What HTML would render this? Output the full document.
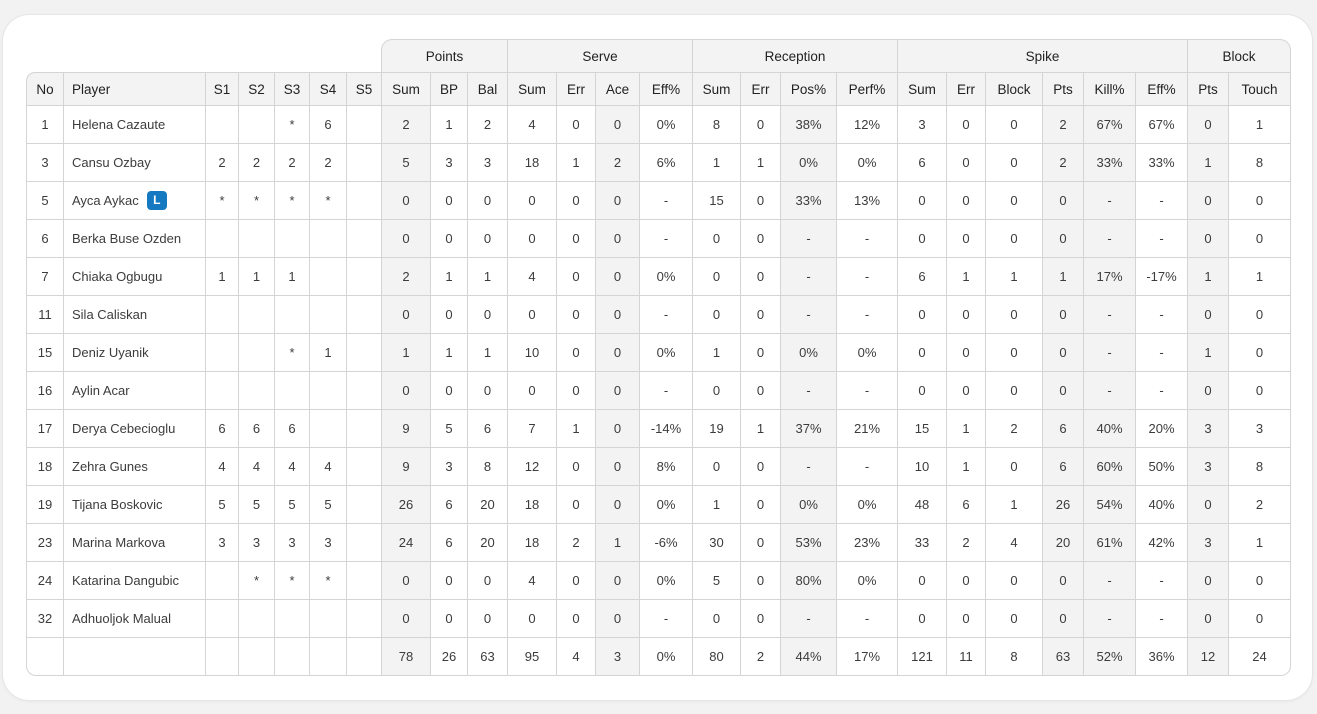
<!DOCTYPE html>
<html><head><meta charset="utf-8"><style>
html,body{margin:0;padding:0;background:#f2f2f2;width:1317px;height:714px;overflow:hidden;font-family:"Liberation Sans",sans-serif;}
.card{position:absolute;left:3px;top:15px;width:1309px;height:685px;background:#fff;border-radius:26px;box-shadow:0 0 0 1px #e6e6e6,0 1px 4px rgba(0,0,0,0.06);}
.g{position:absolute;left:26px;top:39px;display:grid;grid-template-columns:38px 142px 33px 36px 35px 37px 35px 49px 37px 40px 49px 39px 44px 53px 48px 40px 56px 61px 49px 39px 57px 41px 52px 52px 41px 62px;grid-template-rows:33px 34px repeat(15,38px);font-size:13px;color:#3c3c3c;}
.g div div{box-sizing:border-box;border-right:1px solid #d4d4d4;border-bottom:1px solid #d4d4d4;display:flex;align-items:center;justify-content:center;white-space:nowrap;}
.r,.h,.gh{display:contents;}
.r>div:first-child{border-left:1px solid #d4d4d4;}
.r>div:nth-child(2){justify-content:flex-start;padding-left:8px;}
.r>div:nth-child(8),.r>div:nth-child(13),.r>div:nth-child(17),.r>div:nth-child(22),.r>div:nth-child(23),.r>div:nth-child(25){background:#f3f3f3;}
.h>div{background:#f3f3f3;border-top:1px solid #d4d4d4;color:#222;font-size:13.5px;}
.h>div:first-child{border-left:1px solid #d4d4d4;border-top-left-radius:9px;}
.h>div:nth-child(2){justify-content:flex-start;padding-left:8px;}
.gh>div{background:#f3f3f3;border-top:1px solid #d4d4d4;border-bottom:none !important;color:#222;font-size:13.5px;}
.gh>div.b{grid-column:span 7;background:transparent;border:none !important;}
.gh>div.p{border-left:1px solid #d4d4d4;border-top-left-radius:11px;margin-left:-1px;}
.gh>div.k{border-top-right-radius:11px;}
.last>div:first-child{border-bottom-left-radius:10px;}
.last>div:last-child{border-bottom-right-radius:10px;}
.L{display:inline-block;width:20px;height:19px;line-height:19px;background:#1479c0;color:#fff;border-radius:4px;font-weight:bold;font-size:12px;text-align:center;margin-left:8px;}
</style></head><body>
<div class="card"></div>
<div class="g">
<div class="gh"><div class="b"></div><div class="p" style="grid-column:span 3">Points</div><div style="grid-column:span 4">Serve</div><div style="grid-column:span 4">Reception</div><div style="grid-column:span 6">Spike</div><div class="k" style="grid-column:span 2">Block</div></div>
<div class="h"><div>No</div><div>Player</div><div>S1</div><div>S2</div><div>S3</div><div>S4</div><div>S5</div><div>Sum</div><div>BP</div><div>Bal</div><div>Sum</div><div>Err</div><div>Ace</div><div>Eff%</div><div>Sum</div><div>Err</div><div>Pos%</div><div>Perf%</div><div>Sum</div><div>Err</div><div>Block</div><div>Pts</div><div>Kill%</div><div>Eff%</div><div>Pts</div><div>Touch</div></div>
<div class="r"><div>1</div><div>Helena Cazaute</div><div></div><div></div><div>*</div><div>6</div><div></div><div>2</div><div>1</div><div>2</div><div>4</div><div>0</div><div>0</div><div>0%</div><div>8</div><div>0</div><div>38%</div><div>12%</div><div>3</div><div>0</div><div>0</div><div>2</div><div>67%</div><div>67%</div><div>0</div><div>1</div></div>
<div class="r"><div>3</div><div>Cansu Ozbay</div><div>2</div><div>2</div><div>2</div><div>2</div><div></div><div>5</div><div>3</div><div>3</div><div>18</div><div>1</div><div>2</div><div>6%</div><div>1</div><div>1</div><div>0%</div><div>0%</div><div>6</div><div>0</div><div>0</div><div>2</div><div>33%</div><div>33%</div><div>1</div><div>8</div></div>
<div class="r"><div>5</div><div>Ayca Aykac<span class="L">L</span></div><div>*</div><div>*</div><div>*</div><div>*</div><div></div><div>0</div><div>0</div><div>0</div><div>0</div><div>0</div><div>0</div><div>-</div><div>15</div><div>0</div><div>33%</div><div>13%</div><div>0</div><div>0</div><div>0</div><div>0</div><div>-</div><div>-</div><div>0</div><div>0</div></div>
<div class="r"><div>6</div><div>Berka Buse Ozden</div><div></div><div></div><div></div><div></div><div></div><div>0</div><div>0</div><div>0</div><div>0</div><div>0</div><div>0</div><div>-</div><div>0</div><div>0</div><div>-</div><div>-</div><div>0</div><div>0</div><div>0</div><div>0</div><div>-</div><div>-</div><div>0</div><div>0</div></div>
<div class="r"><div>7</div><div>Chiaka Ogbugu</div><div>1</div><div>1</div><div>1</div><div></div><div></div><div>2</div><div>1</div><div>1</div><div>4</div><div>0</div><div>0</div><div>0%</div><div>0</div><div>0</div><div>-</div><div>-</div><div>6</div><div>1</div><div>1</div><div>1</div><div>17%</div><div>-17%</div><div>1</div><div>1</div></div>
<div class="r"><div>11</div><div>Sila Caliskan</div><div></div><div></div><div></div><div></div><div></div><div>0</div><div>0</div><div>0</div><div>0</div><div>0</div><div>0</div><div>-</div><div>0</div><div>0</div><div>-</div><div>-</div><div>0</div><div>0</div><div>0</div><div>0</div><div>-</div><div>-</div><div>0</div><div>0</div></div>
<div class="r"><div>15</div><div>Deniz Uyanik</div><div></div><div></div><div>*</div><div>1</div><div></div><div>1</div><div>1</div><div>1</div><div>10</div><div>0</div><div>0</div><div>0%</div><div>1</div><div>0</div><div>0%</div><div>0%</div><div>0</div><div>0</div><div>0</div><div>0</div><div>-</div><div>-</div><div>1</div><div>0</div></div>
<div class="r"><div>16</div><div>Aylin Acar</div><div></div><div></div><div></div><div></div><div></div><div>0</div><div>0</div><div>0</div><div>0</div><div>0</div><div>0</div><div>-</div><div>0</div><div>0</div><div>-</div><div>-</div><div>0</div><div>0</div><div>0</div><div>0</div><div>-</div><div>-</div><div>0</div><div>0</div></div>
<div class="r"><div>17</div><div>Derya Cebecioglu</div><div>6</div><div>6</div><div>6</div><div></div><div></div><div>9</div><div>5</div><div>6</div><div>7</div><div>1</div><div>0</div><div>-14%</div><div>19</div><div>1</div><div>37%</div><div>21%</div><div>15</div><div>1</div><div>2</div><div>6</div><div>40%</div><div>20%</div><div>3</div><div>3</div></div>
<div class="r"><div>18</div><div>Zehra Gunes</div><div>4</div><div>4</div><div>4</div><div>4</div><div></div><div>9</div><div>3</div><div>8</div><div>12</div><div>0</div><div>0</div><div>8%</div><div>0</div><div>0</div><div>-</div><div>-</div><div>10</div><div>1</div><div>0</div><div>6</div><div>60%</div><div>50%</div><div>3</div><div>8</div></div>
<div class="r"><div>19</div><div>Tijana Boskovic</div><div>5</div><div>5</div><div>5</div><div>5</div><div></div><div>26</div><div>6</div><div>20</div><div>18</div><div>0</div><div>0</div><div>0%</div><div>1</div><div>0</div><div>0%</div><div>0%</div><div>48</div><div>6</div><div>1</div><div>26</div><div>54%</div><div>40%</div><div>0</div><div>2</div></div>
<div class="r"><div>23</div><div>Marina Markova</div><div>3</div><div>3</div><div>3</div><div>3</div><div></div><div>24</div><div>6</div><div>20</div><div>18</div><div>2</div><div>1</div><div>-6%</div><div>30</div><div>0</div><div>53%</div><div>23%</div><div>33</div><div>2</div><div>4</div><div>20</div><div>61%</div><div>42%</div><div>3</div><div>1</div></div>
<div class="r"><div>24</div><div>Katarina Dangubic</div><div></div><div>*</div><div>*</div><div>*</div><div></div><div>0</div><div>0</div><div>0</div><div>4</div><div>0</div><div>0</div><div>0%</div><div>5</div><div>0</div><div>80%</div><div>0%</div><div>0</div><div>0</div><div>0</div><div>0</div><div>-</div><div>-</div><div>0</div><div>0</div></div>
<div class="r"><div>32</div><div>Adhuoljok Malual</div><div></div><div></div><div></div><div></div><div></div><div>0</div><div>0</div><div>0</div><div>0</div><div>0</div><div>0</div><div>-</div><div>0</div><div>0</div><div>-</div><div>-</div><div>0</div><div>0</div><div>0</div><div>0</div><div>-</div><div>-</div><div>0</div><div>0</div></div>
<div class="r last"><div></div><div></div><div></div><div></div><div></div><div></div><div></div><div>78</div><div>26</div><div>63</div><div>95</div><div>4</div><div>3</div><div>0%</div><div>80</div><div>2</div><div>44%</div><div>17%</div><div>121</div><div>11</div><div>8</div><div>63</div><div>52%</div><div>36%</div><div>12</div><div>24</div></div>
</div>
</body></html>
